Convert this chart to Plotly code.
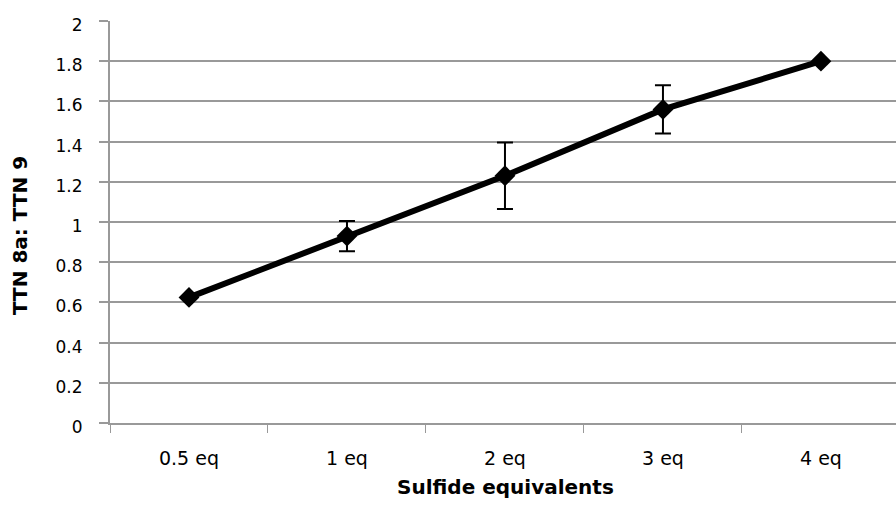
import plotly.graph_objects as go

categories = ["0.5 eq", "1 eq", "2 eq", "3 eq", "4 eq"]
ratio = [0.625, 0.93, 1.23, 1.56, 1.80]
err = [0.0, 0.075, 0.165, 0.12, 0.0]
y_ticks = [0, 0.2, 0.4, 0.6, 0.8, 1, 1.2, 1.4, 1.6, 1.8, 2]
x_title = "Sulfide equivalents"
y_title = "TTN 8a: TTN 9"

FONT = "DejaVu Sans"

fig = go.Figure()
fig.add_trace(go.Scatter(
    x=categories, y=ratio,
    mode="lines+markers",
    line=dict(color="black", width=6),
    marker=dict(symbol="diamond", size=16, color="black"),
    error_y=dict(type="data", array=err, visible=True, color="black",
                 thickness=2, width=8),
    showlegend=False,
))

fig.update_layout(
    width=896, height=506,
    margin=dict(l=110, r=0, t=21, b=83),
    plot_bgcolor="white", paper_bgcolor="white",
    font=dict(family=FONT, size=16, color="black"),
    xaxis=dict(
        type="category", range=[-0.5, 4.475],
        showgrid=False, showline=True, linecolor="#999999", linewidth=2,
        ticks="outside", tickson="boundaries", ticklen=8, tickcolor="#999999",
        tickwidth=1, ticklabelstandoff=17,
        tickfont=dict(family=FONT, size=19),
    ),
    yaxis=dict(
        range=[0, 2], tickvals=y_ticks, ticktext=[f"{v:g}" for v in y_ticks],
        showgrid=True, gridcolor="#999999", gridwidth=2,
        showline=True, linecolor="#999999", linewidth=2,
        ticks="outside", ticklen=9, tickcolor="#999999", tickwidth=2,
        ticklabelstandoff=13, ticklabelshift=4, zeroline=False,
        tickfont=dict(family=FONT, size=17),
    ),
    annotations=[
        dict(text=f"<b>{x_title}</b>", xref="paper", yref="paper",
             x=(506 - 110) / 786, y=-(487 - 423) / 402,
             xanchor="center", yanchor="middle", showarrow=False,
             font=dict(family=FONT, size=20)),
        dict(text=f"<b>{y_title}</b>", xref="paper", yref="paper",
             x=(20 - 110) / 786, y=(423 - 236) / 402, textangle=-90,
             xanchor="center", yanchor="middle", showarrow=False,
             font=dict(family=FONT, size=20)),
    ],
)

fig.write_html("out.html")
